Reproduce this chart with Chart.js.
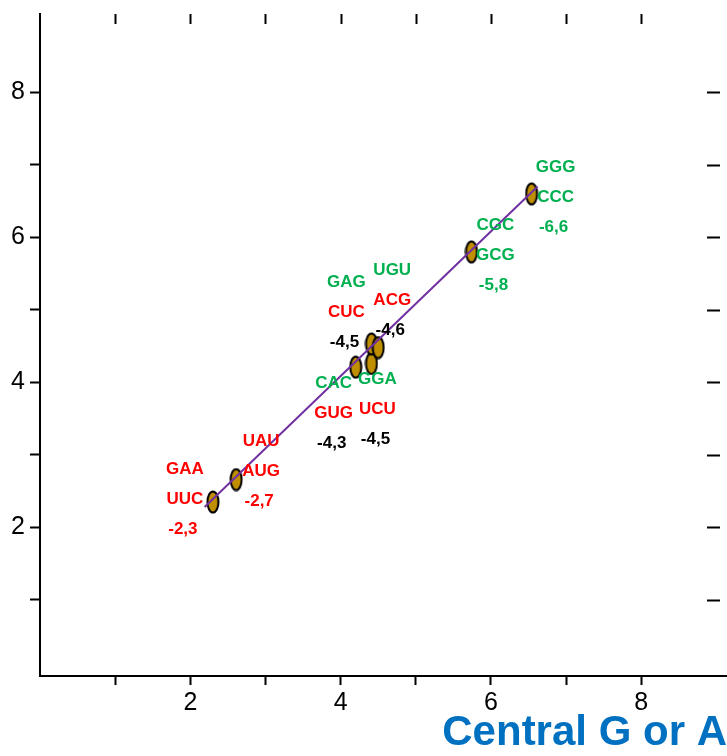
<!DOCTYPE html>
<html>
<head>
<meta charset="utf-8">
<script src="https://cdn.jsdelivr.net/npm/chart.js@4/dist/chart.umd.min.js"></script>
<style>
    html, body { margin: 0; padding: 0; background: #fff; }
    #wrap { width: 727px; height: 756px; }
</style>
</head>
<body>
<div id="wrap"><canvas id="chart"></canvas></div>
<script>
let pointx = [2.30, 2.61, 4.20, 4.41, 4.41, 4.50, 5.74, 6.54];
let pointy = [2.35, 2.66, 4.21, 4.26, 4.53, 4.48, 5.80, 6.60];

// codon pairs and energy label for each point
let codontop = ['GAA', 'UAU', 'CAC', 'GGA', 'GAG', 'UGU', 'CGC', 'GGG'];
let codonbottom = ['UUC', 'AUG', 'GUG', 'UCU', 'CUC', 'ACG', 'GCG', 'CCC'];
let energies = ['-2,3', '-2,7', '-4,3', '-4,5', '-4,5', '-4,6', '-5,8', '-6,6'];

// fitted line end points
let linex = [2.19, 6.62];
let liney = [2.28, 6.70];

let xticklabels = ['2', '4', '6', '8'];
let yticklabels = ['2', '4', '6', '8'];

const RED = '#ff0000';
const GREEN = '#00b050';
const BLACK = '#000000';

// colors of the three text rows for each point
let topcolors = [RED, RED, GREEN, GREEN, GREEN, GREEN, GREEN, GREEN];
let bottomcolors = [RED, RED, RED, RED, RED, RED, GREEN, GREEN];
let energycolors = [RED, RED, BLACK, BLACK, BLACK, BLACK, GREEN, GREEN];

// where each label block sits relative to its point, pixels
let labeloffsets = [
    {dx: -28, dy: -33}, {dx: 25, dy: -38}, {dx: -22, dy: 16}, {dx: 6, dy: 16},
    {dx: -25, dy: -62}, {dx: 14, dy: -77}, {dx: 24, dy: -27}, {dx: 24, dy: -27},
];

// ellipse marker
function makeellipse() {
    let c = document.createElement('canvas');
    c.width = 14;
    c.height = 24;
    let ctx = c.getContext('2d');
    ctx.beginPath();
    ctx.ellipse(7, 12, 5.5, 10.5, 0, 0, 2 * Math.PI);
    ctx.fillStyle = '#bf8f00';
    ctx.fill();
    ctx.lineWidth = 2;
    ctx.strokeStyle = '#000';
    ctx.stroke();
    return c;
}

function keepintticks(scale) {
    scale.ticks = scale.ticks.filter(function(t) {
        return Number.isInteger(t.value) && t.value >= 1 && t.value <= 8;
    });
}

function ticklabel(labels) {
    return function(value) {
        let s = String(value);
        return labels.includes(s) ? s : '';
    };
}

// ticks on top and right edges, mirrored from the main axes
let mirrorticks = {
    id: 'mirrorticks',
    afterDraw(chart) {
        let ctx = chart.ctx;
        let area = chart.chartArea;
        ctx.save();
        ctx.strokeStyle = '#000';
        ctx.lineWidth = 2;
        chart.scales.x.ticks.forEach(function(t) {
            let px = Math.round(chart.scales.x.getPixelForValue(t.value)) + 0.5;
            ctx.beginPath();
            ctx.moveTo(px, area.top);
            ctx.lineTo(px, area.top + 10);
            ctx.stroke();
        });
        chart.scales.y.ticks.forEach(function(t) {
            let py = Math.round(chart.scales.y.getPixelForValue(t.value)) + 0.5;
            ctx.beginPath();
            ctx.moveTo(area.right - 20, py);
            ctx.lineTo(area.right - 7, py);
            ctx.stroke();
        });
        ctx.restore();
    }
};

// codon / energy text next to each point
let pointlabels = {
    id: 'pointlabels',
    afterDatasetsDraw(chart) {
        let ctx = chart.ctx;
        let xs = chart.scales.x;
        let ys = chart.scales.y;
        ctx.save();
        ctx.font = 'bold 17px "Liberation Sans", Arial, sans-serif';
        ctx.textAlign = 'center';
        ctx.textBaseline = 'middle';
        for (let i = 0; i < pointx.length; i++) {
            let px = xs.getPixelForValue(pointx[i]) + labeloffsets[i].dx;
            let py = ys.getPixelForValue(pointy[i]) + labeloffsets[i].dy;
            ctx.fillStyle = topcolors[i];
            ctx.fillText(codontop[i], px, py);
            ctx.fillStyle = bottomcolors[i];
            ctx.fillText(codonbottom[i], px, py + 30);
            ctx.fillStyle = energycolors[i];
            ctx.fillText(energies[i], px - 2, py + 60);
        }
        ctx.restore();
    }
};

let tickfont = {family: '"Liberation Sans", Arial, sans-serif', size: 25};

let chart = new Chart(document.getElementById('chart'), {
    type: 'scatter',
    data: {
        datasets: [
            {
                type: 'line',
                data: linex.map(function(x, i) { return {x: x, y: liney[i]}; }),
                borderColor: '#7030a0',
                borderWidth: 2,
                pointRadius: 0,
                fill: false,
            },
            {
                data: pointx.map(function(x, i) { return {x: x, y: pointy[i]}; }),
                pointStyle: makeellipse(),
                pointRadius: 10,
            },
        ]
    },
    plugins: [mirrorticks, pointlabels],
    options: {
        responsive: true,
        maintainAspectRatio: false,
        animation: false,
        layout: {autoPadding: false, padding: {top: 14, right: 0, left: 0, bottom: 0}},
        plugins: {legend: {display: false}, tooltip: {enabled: false}},
        scales: {
            x: {
                type: 'linear',
                min: 0,
                max: 9.14,
                afterBuildTicks: keepintticks,
                afterFit: function(scale) { scale.height = 80; },
                border: {display: true, color: '#000', width: 2},
                grid: {drawOnChartArea: false, drawTicks: true, tickLength: 9, tickColor: '#000', tickWidth: 2},
                ticks: {stepSize: 1, autoSkip: false, maxRotation: 0, color: '#000', font: tickfont, padding: 3,
                        callback: ticklabel(xticklabels)},
                title: {
                    display: true,
                    text: 'Central G or A',
                    align: 'end',
                    color: '#0070c0',
                    font: {family: '"Liberation Sans", Arial, sans-serif', size: 42, weight: 'bold'},
                    padding: {top: 0, bottom: -3},
                },
            },
            y: {
                type: 'linear',
                min: -0.05,
                max: 9.08,
                afterBuildTicks: keepintticks,
                afterFit: function(scale) {
                    scale.width = 40;
                    // no extra room for half labels at the ends
                    scale.paddingTop = 0;
                    scale.paddingBottom = 0;
                },
                border: {display: true, color: '#000', width: 2},
                grid: {drawOnChartArea: false, drawTicks: true, tickLength: 10, tickColor: '#000', tickWidth: 2},
                ticks: {stepSize: 1, autoSkip: false, color: '#000', font: tickfont, padding: 5,
                        callback: ticklabel(yticklabels)},
            },
        },
    },
});
</script>
</body>
</html>
